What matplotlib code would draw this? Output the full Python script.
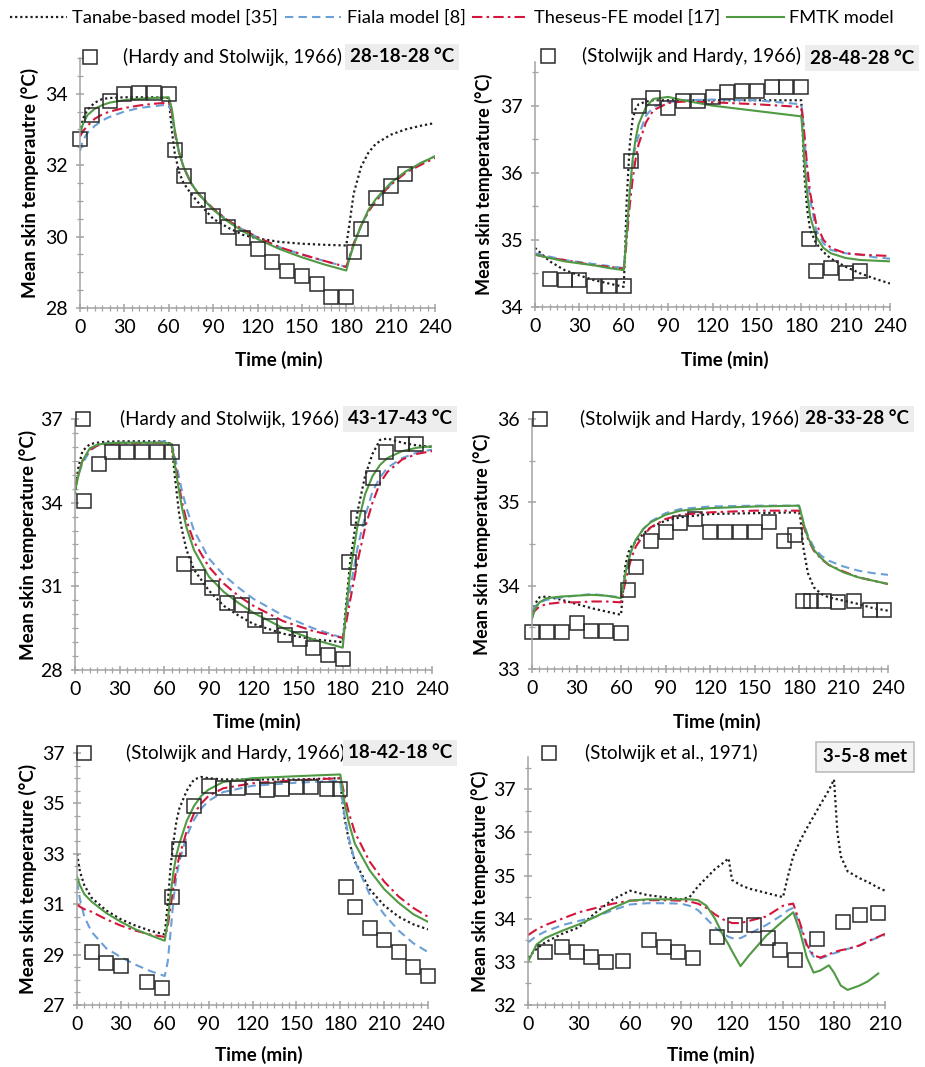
import matplotlib
matplotlib.use('Agg')
import numpy as np
import matplotlib.pyplot as plt
from matplotlib.lines import Line2D
from matplotlib.ticker import MultipleLocator

plt.rcParams['font.family'] = ['Lato', 'DejaVu Sans']

# ---------------- data ----------------
# Panel 1: 28-18-28 °C (Hardy and Stolwijk, 1966)
t1 = [0, 2, 5, 10, 15, 20, 30, 40, 50, 60, 62, 64, 67, 70, 75, 80, 90, 100, 110, 120,
      135, 150, 165, 180, 182, 185, 190, 195, 200, 210, 220, 230, 240]
tan1 = [32.9, 33.3, 33.55, 33.75, 33.85, 33.88, 33.9, 33.9, 33.9, 33.88, 33.0, 32.35, 31.8, 31.5,
        31.2, 30.95, 30.5, 30.25, 30.05, 29.95, 29.85, 29.8, 29.77, 29.75, 30.3, 31.2, 31.95,
        32.35, 32.6, 32.85, 33.0, 33.1, 33.18]
fia1 = [32.4, 32.7, 32.9, 33.1, 33.25, 33.35, 33.5, 33.6, 33.65, 33.7, 33.45, 32.9, 32.35, 31.95,
        31.5, 31.2, 30.78, 30.45, 30.2, 29.98, 29.7, 29.5, 29.32, 29.15, 29.4, 29.8, 30.3,
        30.7, 31.0, 31.45, 31.8, 32.05, 32.25]
the1 = [32.8, 32.95, 33.1, 33.3, 33.42, 33.5, 33.6, 33.67, 33.72, 33.75, 33.5, 32.95, 32.35, 31.95,
        31.5, 31.2, 30.78, 30.45, 30.2, 29.98, 29.7, 29.5, 29.32, 29.15, 29.4, 29.8, 30.3,
        30.7, 31.0, 31.45, 31.78, 32.0, 32.2]
fmt1 = [32.9, 33.15, 33.4, 33.58, 33.68, 33.75, 33.82, 33.86, 33.88, 33.9, 33.6, 33.0, 32.35, 31.95,
        31.5, 31.2, 30.75, 30.42, 30.15, 29.93, 29.65, 29.42, 29.22, 29.05, 29.35, 29.75, 30.3,
        30.75, 31.05, 31.5, 31.82, 32.05, 32.25]
obs_t1 = [0, 8, 20, 30, 40, 50, 60, 64, 70, 80, 90, 100, 110, 120, 130, 140, 150, 160, 170, 180,
          185, 190, 200, 210, 220]
obs_T1 = [32.74, 33.4, 33.8, 33.98, 34.02, 34.02, 34.0, 32.43, 31.71, 31.03, 30.59, 30.26, 29.96,
          29.65, 29.28, 29.05, 28.91, 28.67, 28.3, 28.3, 29.56, 30.2, 31.08, 31.43, 31.76]

# Panel 2: 28-48-28 °C (Stolwijk and Hardy, 1966)
t2 = [0, 10, 20, 30, 40, 50, 60, 61, 62, 64, 66, 68, 70, 75, 80, 90, 100, 120, 150, 180,
      181, 182, 184, 186, 190, 195, 200, 210, 220, 230, 240]
tan2 = [34.88, 34.68, 34.55, 34.47, 34.4, 34.35, 34.3, 34.9, 35.6, 36.4, 36.8, 36.95, 37.02, 37.06,
        37.08, 37.08, 37.08, 37.08, 37.08, 37.08, 36.6, 36.0, 35.45, 35.15, 34.95, 34.82, 34.72,
        34.6, 34.5, 34.42, 34.35]
fia2 = [34.8, 34.75, 34.7, 34.67, 34.64, 34.61, 34.58, 34.8, 35.1, 35.7, 36.1, 36.4, 36.55, 36.85,
        36.98, 37.05, 37.08, 37.09, 37.08, 37.02, 36.85, 36.55, 36.0, 35.6, 35.15, 34.95, 34.85,
        34.8, 34.78, 34.74, 34.72]
the2 = [34.78, 34.73, 34.7, 34.66, 34.62, 34.6, 34.57, 34.75, 35.0, 35.5, 35.9, 36.2, 36.42, 36.75,
        36.93, 37.04, 37.06, 37.05, 37.02, 36.98, 36.85, 36.6, 36.1, 35.7, 35.25, 35.0, 34.88,
        34.8, 34.78, 34.77, 34.76]
fmt2 = [34.78, 34.73, 34.68, 34.65, 34.62, 34.58, 34.55, 34.8, 35.1, 35.7, 36.2, 36.5, 36.72, 36.98,
        37.1, 37.13, 37.08, 37.0, 36.92, 36.84, 36.6, 36.2, 35.7, 35.35, 35.05, 34.88, 34.8,
        34.73, 34.7, 34.69, 34.68]
obs_t2 = [10, 20, 30, 40, 50, 60, 65, 70, 80, 90, 100, 110, 120, 130, 140, 150, 160, 170, 180,
          185, 190, 200, 210, 220]
obs_T2 = [34.41, 34.4, 34.4, 34.31, 34.31, 34.31, 36.18, 37.0, 37.12, 36.97, 37.07, 37.07, 37.13,
          37.2, 37.22, 37.22, 37.28, 37.28, 37.28, 35.01, 34.53, 34.58, 34.5, 34.53]

# Panel 3: 43-17-43 °C (Hardy and Stolwijk, 1966)
t3 = [0, 2, 5, 10, 15, 20, 30, 40, 50, 60, 65, 67, 70, 72, 75, 80, 90, 100, 110, 120, 140, 160,
      180, 182, 185, 190, 195, 200, 205, 210, 220, 230, 240]
tan3 = [34.3, 35.2, 35.85, 36.1, 36.15, 36.18, 36.2, 36.2, 36.2, 36.2, 36.1, 35.0, 33.6, 33.0, 32.3,
        31.6, 30.85, 30.3, 29.95, 29.65, 29.3, 29.1, 29.0, 30.2, 31.9, 33.7, 34.95, 35.75, 36.25,
        36.3, 36.15, 36.05, 36.0]
fia3 = [34.6, 35.0, 35.4, 35.85, 36.05, 36.12, 36.15, 36.15, 36.15, 36.2, 36.1, 35.7, 34.9, 34.4,
        33.8, 33.0, 32.0, 31.4, 30.95, 30.55, 29.95, 29.5, 29.15, 29.8, 30.9, 32.4, 33.5, 34.4,
        34.9, 35.25, 35.6, 35.8, 35.9]
the3 = [34.5, 35.0, 35.5, 35.9, 36.05, 36.1, 36.12, 36.13, 36.14, 36.15, 36.05, 35.5, 34.6, 34.0,
        33.35, 32.6, 31.7, 31.1, 30.65, 30.3, 29.75, 29.4, 29.15, 29.6, 30.5, 31.9, 33.1, 34.0,
        34.7, 35.1, 35.55, 35.75, 35.85]
fmt3 = [34.4, 34.9, 35.5, 35.95, 36.08, 36.12, 36.15, 36.15, 36.15, 36.15, 36.1, 35.4, 34.4, 33.8,
        33.1, 32.3, 31.35, 30.8, 30.4, 30.05, 29.5, 29.1, 28.8, 30.0, 31.5, 33.2, 34.3, 34.95,
        35.35, 35.6, 35.85, 35.97, 36.02]
obs_t3 = [6, 16, 25, 35, 45, 55, 65, 73, 83, 92, 102, 112, 121, 131, 141, 151, 160, 170, 180, 184,
          190, 200, 209, 220, 229]
obs_T3 = [34.06, 35.37, 35.8, 35.8, 35.8, 35.8, 35.8, 31.79, 31.32, 30.93, 30.41, 30.33, 29.79,
          29.58, 29.25, 29.11, 28.78, 28.54, 28.39, 31.88, 33.44, 34.87, 35.8, 36.11, 36.11]

# Panel 4: 28-33-28 °C (Stolwijk and Hardy, 1966)
t4 = [0, 2, 5, 10, 20, 30, 40, 50, 60, 61, 63, 65, 67, 70, 75, 80, 90, 100, 120, 150, 180,
      181, 183, 186, 190, 195, 200, 210, 220, 230, 240]
tan4 = [33.62, 33.78, 33.86, 33.87, 33.83, 33.78, 33.73, 33.69, 33.65, 33.85, 34.25, 34.4, 34.47,
        34.53, 34.62, 34.7, 34.78, 34.82, 34.86, 34.87, 34.88, 34.8, 34.45, 34.15, 33.98, 33.9,
        33.86, 33.82, 33.78, 33.73, 33.7]
fia4 = [33.7, 33.75, 33.8, 33.83, 33.86, 33.88, 33.9, 33.88, 33.86, 33.95, 34.15, 34.3, 34.42,
        34.55, 34.68, 34.77, 34.87, 34.92, 34.95, 34.96, 34.96, 34.9, 34.76, 34.6, 34.46, 34.36,
        34.3, 34.23, 34.18, 34.15, 34.13]
the4 = [33.65, 33.7, 33.75, 33.78, 33.8, 33.8, 33.81, 33.81, 33.8, 33.88, 34.05, 34.2, 34.33,
        34.47, 34.6, 34.7, 34.8, 34.85, 34.88, 34.9, 34.9, 34.85, 34.72, 34.56, 34.42, 34.32,
        34.25, 34.17, 34.1, 34.06, 34.02]
fmt4 = [33.6, 33.72, 33.8, 33.85, 33.87, 33.88, 33.89, 33.88, 33.85, 33.95, 34.15, 34.3, 34.42,
        34.55, 34.68, 34.76, 34.85, 34.9, 34.93, 34.95, 34.96, 34.9, 34.75, 34.58, 34.43, 34.33,
        34.25, 34.16, 34.1, 34.06, 34.02]
obs_t4 = [0, 10, 20, 30, 40, 50, 60, 65, 70, 80, 90, 100, 110, 120, 130, 140, 150, 160, 170, 177,
          183, 188, 197, 206, 217, 228, 237]
obs_T4 = [33.44, 33.44, 33.44, 33.55, 33.46, 33.46, 33.43, 33.95, 34.23, 34.54, 34.65, 34.75,
          34.8, 34.65, 34.65, 34.65, 34.65, 34.76, 34.54, 34.61, 33.82, 33.82, 33.82, 33.8, 33.82,
          33.71, 33.71]

# Panel 5: 18-42-18 °C (Stolwijk and Hardy, 1966)
t5 = [0, 2, 5, 10, 20, 30, 40, 50, 60, 62, 64, 66, 68, 70, 75, 80, 85, 90, 100, 120, 150, 180,
      181, 183, 186, 190, 200, 210, 220, 230, 240]
tan5 = [33.0, 32.3, 31.75, 31.25, 30.75, 30.4, 30.15, 29.95, 29.8, 31.0, 32.5, 33.5, 34.3, 34.8,
        35.5, 35.95, 36.05, 36.0, 35.95, 35.95, 35.95, 36.0, 35.3, 34.4, 33.5, 32.7, 31.6, 30.95,
        30.5, 30.2, 30.0]
fia5 = [31.9, 31.2, 30.5, 29.9, 29.25, 28.9, 28.6, 28.35, 28.15, 28.7, 29.9, 31.2, 32.1, 32.7,
        33.7, 34.35, 34.8, 35.1, 35.45, 35.7, 35.82, 35.9, 35.3, 34.5, 33.6, 32.7, 31.4, 30.6,
        29.95, 29.45, 29.1]
the5 = [31.0, 30.9, 30.8, 30.7, 30.4, 30.15, 29.95, 29.8, 29.7, 30.1, 30.9, 31.7, 32.4, 32.9,
        33.9, 34.6, 35.0, 35.3, 35.6, 35.8, 35.92, 36.0, 35.85, 35.3, 34.6, 33.85, 32.7, 31.9,
        31.3, 30.85, 30.5]
fmt5 = [32.1, 31.75, 31.4, 31.1, 30.65, 30.3, 30.0, 29.77, 29.55, 30.3, 31.4, 32.3, 32.95, 33.4,
        34.3, 34.9, 35.3, 35.55, 35.85, 36.0, 36.08, 36.15, 35.8, 35.0, 34.2, 33.4, 32.35, 31.6,
        31.05, 30.6, 30.3]
obs_t5 = [10, 20, 30, 48, 58, 65, 70, 80, 90, 100, 110, 120, 130, 140, 150, 160, 171, 180, 184,
          190, 200, 210, 220, 230, 240]
obs_T5 = [29.09, 28.68, 28.55, 27.93, 27.69, 31.28, 33.2, 34.91, 35.7, 35.61, 35.61, 35.65, 35.54,
          35.58, 35.65, 35.65, 35.58, 35.58, 31.68, 30.88, 30.05, 29.58, 29.12, 28.5, 28.15]

# Panel 6: 3-5-8 met (Stolwijk et al., 1971)
t6 = [0, 5, 10, 20, 30, 40, 50, 60, 70, 80, 90, 95, 100, 105, 110, 115, 118, 120, 125, 130, 140,
      150, 153, 156, 160, 164, 168, 172, 177, 180, 182, 184, 188, 195, 200, 206, 210]
tan6 = [33.1, 33.3, 33.45, 33.65, 33.8, 34.15, 34.45, 34.65, 34.55, 34.5, 34.45, 34.5, 34.75,
        34.95, 35.15, 35.3, 35.4, 34.9, 34.78, 34.7, 34.6, 34.5, 35.0, 35.45, 35.8, 36.1, 36.37,
        36.65, 36.98, 37.23, 36.0, 35.45, 35.1, 34.94, 34.85, 34.72, 34.65]
fia6 = [33.45, 33.6, 33.7, 33.85, 33.95, 34.05, 34.2, 34.33, 34.36, 34.36, 34.35, 34.3, 34.2,
        34.0, 33.8, 33.65, 33.58, 33.55, 33.55, 33.65, 33.85, 34.1, 34.2, 34.25, 33.85, 33.35,
        33.12, 33.08, 33.15, 33.2, 33.22, 33.25, 33.3, 33.38, 33.47, 33.57, 33.62]
the6 = [33.62, 33.75, 33.85, 34.0, 34.15, 34.25, 34.35, 34.42, 34.43, 34.43, 34.42, 34.4, 34.35,
        34.25, 34.1, 33.98, 33.93, 33.9, 33.9, 33.95, 34.05, 34.3, 34.33, 34.35, 33.9, 33.4,
        33.15, 33.1, 33.18, 33.22, 33.25, 33.27, 33.3, 33.38, 33.48, 33.58, 33.65]
fmt6 = [33.0, 33.4, 33.55, 33.72, 33.87, 34.05, 34.25, 34.42, 34.45, 34.45, 34.45, 34.45, 34.43,
        34.3, 34.0, 33.6, 33.4, 33.25, 32.9, 33.15, 33.6, 33.95, 34.05, 34.15, 33.7, 33.1, 32.75,
        32.8, 32.92, 32.75, 32.6, 32.45, 32.35, 32.45, 32.55, 32.73, np.nan]
obs_t6 = [10, 20, 29, 37, 46, 56, 71, 80, 88, 97, 111, 122, 133, 141, 148, 157, 170, 185, 195, 206]
obs_T6 = [33.24, 33.35, 33.24, 33.12, 33.0, 33.02, 33.51, 33.34, 33.24, 33.1, 33.58, 33.85, 33.85,
          33.55, 33.28, 33.04, 33.52, 33.93, 34.09, 34.14]

model_names = ['Tanabe-based model [35]', 'Fiala model [8]', 'Theseus-FE model [17]', 'FMTK model']

# ---------------- styling ----------------
W, H = 925, 1067
AXC = '#a3a3a3'
styles = [
    dict(color='#1e1e1e', ls=(0, (1, 1.3)), lw=1.6),
    dict(color='#6c9fd6', ls=(0, (4, 2.5)), lw=1.5),
    dict(color='#d4163c', ls=(0, (5, 2, 1.2, 2)), lw=1.5),
    dict(color='#4f9a43', ls='-', lw=1.5),
]

fig = plt.figure(figsize=(W / 100, H / 100), dpi=100)


def fx(x):
    return x / W


def fy(y):
    return 1 - y / H


def panel(box, t, models, obs_t, obs_T, xmax, ylim, ystep, ylabel, ref, cond, pos, boxed=False):
    l, top, r, b = box
    ax = fig.add_axes([fx(l), fy(b), (r - l) / W, (b - top) / H])
    for vals, st in zip(models, styles):
        ax.plot(t, vals, **st)
    ax.plot(obs_t, obs_T, 's', mfc='none', mec='#2b2b2b', ms=9.5, mew=1.1, clip_on=False)
    ax.set_xlim(0, xmax)
    ax.set_ylim(*ylim)
    ax.xaxis.set_major_locator(MultipleLocator(30))
    ax.xaxis.set_minor_locator(MultipleLocator(5))
    ax.set_yticks(np.arange(ylim[0], ylim[1] + 0.01, ystep))
    ax.yaxis.set_minor_locator(MultipleLocator(0.5))
    for s in ['top', 'right']:
        ax.spines[s].set_visible(False)
    for s in ['left', 'bottom']:
        ax.spines[s].set_color(AXC)
        ax.spines[s].set_linewidth(1.1)
    ax.tick_params(which='both', direction='inout', color=AXC, labelsize=14)
    ax.tick_params(which='major', length=6, width=1.1)
    ax.tick_params(which='minor', length=4, width=0.9)
    ax.tick_params(axis='x', pad=5)
    ax.tick_params(axis='y', pad=6)
    # labels
    fig.text(fx(pos['ylab']), fy((top + b) / 2), ylabel, rotation=90, ha='center', va='center',
             fontsize=pos.get('yfs', 13.5), fontweight='bold')
    fig.text(fx(pos['xlab'][0]), fy(pos['xlab'][1]), 'Time (min)', ha='center', va='center',
             fontsize=13.5, fontweight='bold')
    # observation key + reference + condition
    sx, sy = pos['sq']
    fig.add_artist(Line2D([fx(sx)], [fy(sy)], marker='s', mfc='none', mec='#2b2b2b', ms=9.5,
                          mew=1.1, ls='none'))
    fig.text(fx(pos['ref'][0]), fy(pos['ref'][1]), ref, ha='center', va='center', fontsize=13.5)
    if boxed:
        bb = dict(boxstyle='square,pad=0.35', fc='#f3f3f3', ec='#bdbdbd', lw=1.2)
    else:
        bb = dict(boxstyle='square,pad=0.25', fc='#ededed', ec='none')
    fig.text(fx(pos['cond'][0]), fy(pos['cond'][1]), cond, ha='center', va='center',
             fontsize=13.5, fontweight='bold', bbox=bb)
    return ax


ylab_l = 'Mean skin temperature (°C)'

ax1 = panel((80, 58, 435, 308), t1, [tan1, fia1, the1, fmt1], obs_t1, obs_T1, 240, (28, 35), 2,
            'Mean skin temperautre (°C)', '(Hardy and Stolwijk, 1966)', '28-18-28 °C',
            dict(ylab=30, xlab=(279, 360), sq=(90, 57), ref=(233, 57), cond=(402, 57)))
ax2 = panel((535, 62, 890, 307), t2, [tan2, fia2, the2, fmt2], obs_t2, obs_T2, 240, (34, 37.65), 1,
            ylab_l, '(Stolwijk and Hardy, 1966)', '28-48-28 °C',
            dict(ylab=484, yfs=13, xlab=(725, 360), sq=(548, 56), ref=(692, 56), cond=(862, 58)))
ax3 = panel((75, 419, 432, 670), t3, [tan3, fia3, the3, fmt3], obs_t3, obs_T3, 240, (28, 37), 3,
            ylab_l, '(Hardy and Stolwijk, 1966)', '43-17-43 °C',
            dict(ylab=28, xlab=(257, 722), sq=(83, 419), ref=(230, 419), cond=(400, 419)))
ax4 = panel((532, 419, 888, 669), t4, [tan4, fia4, the4, fmt4], obs_t4, obs_T4, 240, (33, 36), 1,
            ylab_l, '(Stolwijk and Hardy, 1966)', '28-33-28 °C',
            dict(ylab=482, yfs=13, xlab=(717, 722), sq=(540, 419), ref=(689, 419), cond=(857, 419)))
ax5 = panel((77, 753, 428, 1005), t5, [tan5, fia5, the5, fmt5], obs_t5, obs_T5, 240, (27, 37), 2,
            ylab_l, '(Stolwijk and Hardy, 1966)', '18-42-18 °C',
            dict(ylab=28, xlab=(259, 1055), sq=(84, 753), ref=(235, 753), cond=(400, 753)))
ax6 = panel((528, 757, 885, 1005), t6, [tan6, fia6, the6, fmt6], obs_t6, obs_T6, 210, (32, 37.75), 1,
            ylab_l, '(Stolwijk et al., 1971)', '3-5-8 met',
            dict(ylab=480, yfs=13, xlab=(711, 1055), sq=(549, 753), ref=(671, 753), cond=(865, 757)),
            boxed=True)

handles = [Line2D([], [], **st) for st in styles]
fig.legend(handles, model_names, loc='center left', bbox_to_anchor=(fx(10), fy(18)), ncol=4,
           frameon=False, fontsize=13.2, handlelength=3.1, handletextpad=0.3, columnspacing=0.35,
           borderaxespad=0, borderpad=0)

fig.savefig('out.png', dpi=100, facecolor='white')
